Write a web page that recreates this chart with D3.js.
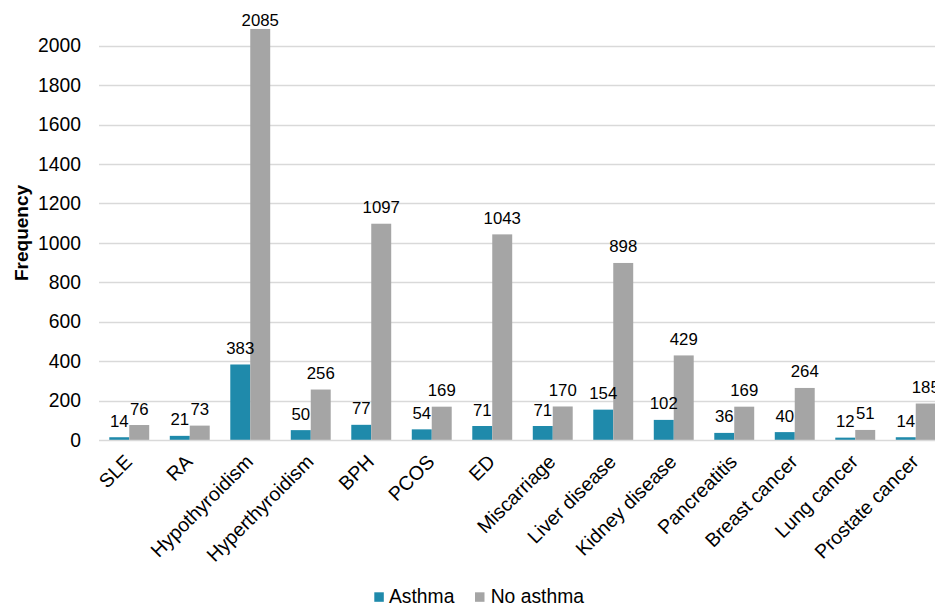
<!DOCTYPE html>
<html>
<head>
<meta charset="utf-8">
<script src="https://cdn.jsdelivr.net/npm/d3@7/dist/d3.min.js"></script>
<style>
  html, body { margin: 0; padding: 0; background: #fff; }
  svg { display: block; font-family: "Liberation Sans", Arial, sans-serif; }
</style>
</head>
<body>
<svg id="chart" width="935" height="608"></svg>
<script>
const categories = ["SLE", "RA", "Hypothyroidism", "Hyperthyroidism", "BPH", "PCOS", "ED",
  "Miscarriage", "Liver disease", "Kidney disease", "Pancreatitis", "Breast cancer",
  "Lung cancer", "Prostate cancer"];
const asthma   = [14, 21, 383, 50, 77, 54, 71, 71, 154, 102, 36, 40, 12, 14];
const noAsthma = [76, 73, 2085, 256, 1097, 169, 1043, 170, 898, 429, 169, 264, 51, 185];
const seriesNames = ["Asthma", "No asthma"];
const seriesColors = ["#1f8aab", "#a5a5a5"];
const yTicks = [0, 200, 400, 600, 800, 1000, 1200, 1400, 1600, 1800, 2000];
const yTitle = "Frequency";

const svg = d3.select("#chart");
const plotLeft = 99, plotRight = 946, plotBottom = 440, plotTop = 45.7;

const x = d3.scaleBand().domain(categories).range([plotLeft, plotRight]).paddingInner(0.34).paddingOuter(0.17);
const xs = d3.scaleBand().domain([0, 1]).range([0, x.bandwidth()]);
const y = d3.scaleLinear().domain([0, 2000]).range([plotBottom, plotTop]);

// gridlines
svg.append("g").selectAll("line").data(yTicks.filter(d => d > 0)).join("line")
  .attr("x1", plotLeft).attr("x2", plotRight)
  .attr("y1", d => Math.round(y(d)) + 0.5).attr("y2", d => Math.round(y(d)) + 0.5)
  .attr("stroke", "#d9d9d9").attr("stroke-width", 1.3);

// y axis tick labels
const yAxis = d3.axisLeft(y).tickValues(yTicks).tickSize(0).tickPadding(18).tickFormat(d3.format("d"));
const yg = svg.append("g").attr("transform", `translate(${plotLeft},0)`).call(yAxis);
yg.select(".domain").remove();
yg.selectAll("text").attr("font-size", "19.3px").attr("fill", "#000")
  .attr("font-family", "Liberation Sans, Arial, sans-serif");

// bars
const data = categories.map((c, i) => ({ c, vals: [asthma[i], noAsthma[i]] }));
const groups = svg.append("g").selectAll("g").data(data).join("g")
  .attr("transform", d => `translate(${x(d.c)},0)`);
groups.selectAll("rect").data(d => d.vals.map((v, k) => ({ v, k }))).join("rect")
  .attr("x", d => xs(d.k)).attr("width", xs.bandwidth())
  .attr("y", d => y(d.v)).attr("height", d => plotBottom - y(d.v))
  .attr("fill", d => seriesColors[d.k]);

// data labels
groups.selectAll("text").data(d => d.vals.map((v, k) => ({ v, k }))).join("text")
  .attr("x", d => xs(d.k) + xs.bandwidth() / 2)
  .attr("y", d => Math.max(y(d.v) - 10.5, 25.5))
  .attr("text-anchor", "middle").attr("font-size", "16.8px").attr("fill", "#000")
  .text(d => d.v);

// x axis line
svg.append("line").attr("x1", plotLeft).attr("x2", plotRight)
  .attr("y1", plotBottom + 0.5).attr("y2", plotBottom + 0.5)
  .attr("stroke", "#d9d9d9").attr("stroke-width", 1.3);

// x axis labels
const xAxis = d3.axisBottom(x).tickSize(0).tickPadding(0);
const xg = svg.append("g").attr("transform", `translate(0,${plotBottom})`).call(xAxis);
xg.select(".domain").remove();
xg.selectAll(".tick text")
  .attr("font-size", "19.6px").attr("fill", "#000")
  .attr("font-family", "Liberation Sans, Arial, sans-serif")
  .attr("text-anchor", "end")
  .attr("dy", 0)
  .attr("transform", "translate(4,23) rotate(-45)");

// y title
svg.append("text")
  .attr("transform", "translate(27.5,233) rotate(-90)")
  .attr("text-anchor", "middle").attr("font-size", "19px").attr("font-weight", "bold")
  .attr("fill", "#000").text(yTitle);

// legend
const legendItems = [{ x: 374.3, tx: 389 }, { x: 475, tx: 490.7 }];
const lg = svg.append("g").selectAll("g").data(seriesNames).join("g");
lg.append("rect").attr("x", (d, i) => legendItems[i].x).attr("y", 592.3)
  .attr("width", 9.5).attr("height", 9.5).attr("fill", (d, i) => seriesColors[i]);
lg.append("text").attr("x", (d, i) => legendItems[i].tx).attr("y", 603.3)
  .attr("font-size", "19.3px").attr("fill", "#000").text(d => d);
</script>
</body>
</html>
